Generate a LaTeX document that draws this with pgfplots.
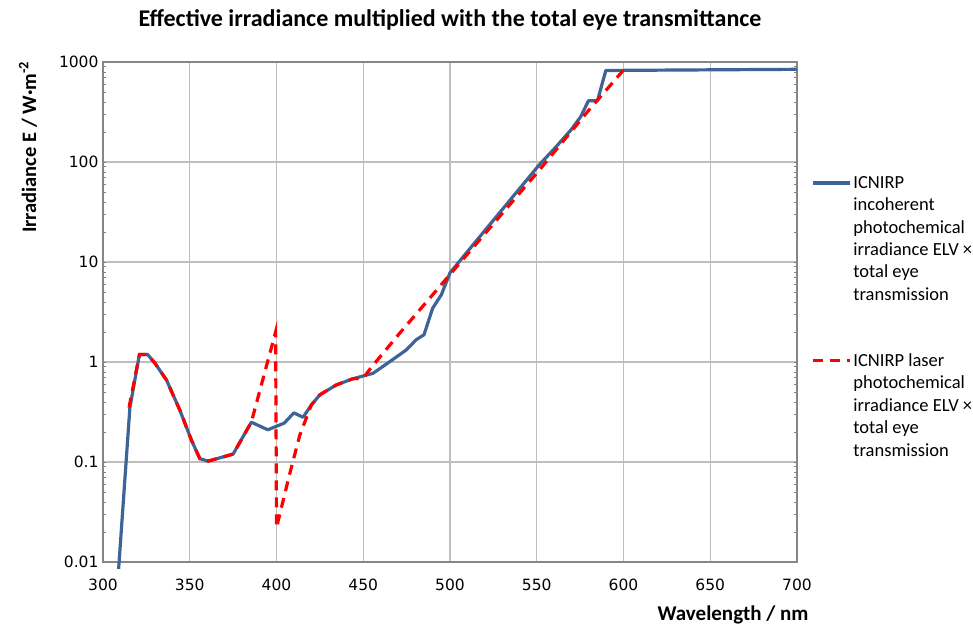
\documentclass[border=0pt]{standalone}
\usepackage{fontspec}
\setmainfont{Carlito}
\newfontfamily\tickfont{DejaVu Sans}
\usepackage{pgfplots}
\pgfplotsset{compat=1.18}
\definecolor{SeriesBlue}{RGB}{62,100,150}
\definecolor{GridGray}{RGB}{190,190,190}
\definecolor{FrameGray}{RGB}{134,134,134}
\pgfplotsset{
  bluelegend/.style={legend image code/.code={\draw[##1] (0pt,56pt) -- (37pt,56pt);}},
  redlegend/.style={legend image code/.code={\draw[##1] (0pt,45pt) -- (37pt,45pt);}},
}

\begin{document}
\begin{tikzpicture}
\begin{axis}[
  name=ax,
  scale only axis,
  width=694pt, height=500pt,
  xmin=300, xmax=700,
  ymode=log, ymin=0.01, ymax=1000,
  xtick={300,350,...,700},
  ytick={0.01,0.1,1,10,100,1000},
  yticklabels={0.01,0.1,1,10,100,1000},
  grid=major,
  major grid style={GridGray, line width=1.2pt},
  axis line style={FrameGray, line width=1.5pt},
  major tick length=0pt,
  tick label style={font=\fontsize{15.5}{18}\tickfont},
  xticklabel style={yshift=-13pt},
  yticklabel style={xshift=-1pt},
  /pgf/number format/assume math mode=true,
  clip=false,
  title={Effective irradiance multiplied with the total eye transmittance},
  title style={at={(0.5,1)}, anchor=base, yshift=29pt, font=\bfseries\fontsize{24}{28}\selectfont},
  xlabel={Wavelength / nm},
  xlabel style={at={(1,0)}, anchor=base east, xshift=15pt, yshift=-58pt, font=\bfseries\fontsize{21}{24}\selectfont},
  legend cell align=left,
  legend style={at={(1.0159,0.78)}, anchor=north west, draw=none, fill=none,
    font=\fontsize{18.5}{22.4}\selectfont, row sep=48pt, column sep=0pt,
    nodes={align=left, inner xsep=2pt}},
]
\addplot[SeriesBlue, line width=3.2pt, line join=round, bluelegend] coordinates {
  (309,0.0085) (315.5,0.35) (321,1.19) (325.7,1.19) (330,0.97) (336.6,0.66)
  (344.3,0.33) (351,0.165) (355.8,0.108) (360.6,0.102) (375,0.12) (385.5,0.25)
  (395,0.21) (404.5,0.245) (410,0.31) (415.3,0.28) (420,0.37) (425,0.47)
  (434.5,0.59) (444,0.68) (455.6,0.77) (465,1.0) (474.8,1.32) (480.5,1.67)
  (485,1.87) (490,3.45) (495,4.7) (500,7.8) (511,13.3) (551.5,94) (560,135)
  (569.7,209) (575.4,285) (579.8,410) (585,410) (589.8,822) (600,825)
  (650,835) (700,845)
};
\addlegendentry{ICNIRP\\incoherent\\photochemical\\irradiance ELV ×\\total eye\\transmission}
\addplot[red, line width=3.2pt, dash pattern=on 10pt off 7pt, redlegend] coordinates {
  (315,0.35) (321,1.19) (325.7,1.19) (330,0.97) (336.6,0.66) (344.3,0.33)
  (351,0.165) (355.8,0.108) (360.6,0.102) (375,0.12) (385.5,0.25) (399.5,2.0)
  (400,0.022) (407.6,0.076) (413.4,0.185) (420,0.37) (425,0.47) (434.5,0.59)
  (444,0.68) (450,0.69) (455,0.9) (471,1.94) (500,7.5) (551.5,83) (580,330)
  (600,830)
};
\addlegendentry{ICNIRP laser\\photochemical\\irradiance ELV ×\\total eye\\transmission}
\node[rotate=90, anchor=east, font=\bfseries\fontsize{20.5}{24}\selectfont]
  at ([xshift=-75pt,yshift=4pt]rel axis cs:0,1) {Irradiance E / W·m\textsuperscript{-2}};
\end{axis}
\pgfresetboundingbox
\path ([xshift=-103pt,yshift=-64pt]ax.south west) rectangle ([xshift=176pt,yshift=62pt]ax.north east);
\end{tikzpicture}
\end{document}
